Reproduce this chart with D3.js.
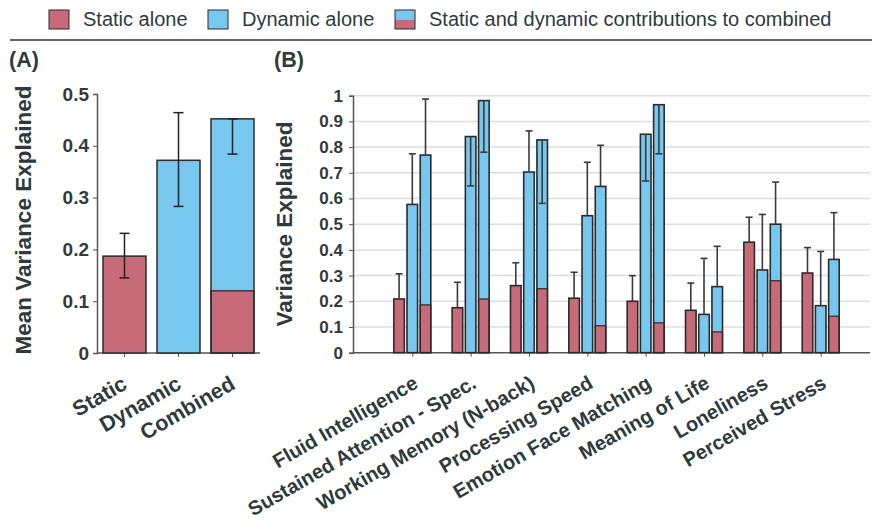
<!DOCTYPE html>
<html>
<head>
<meta charset="utf-8">
<script src="https://cdn.jsdelivr.net/npm/d3@7"></script>
<style>
  html, body { margin: 0; padding: 0; background: #fff; }
  svg { display: block; font-family: "Liberation Sans", Arial, Helvetica, sans-serif; }
</style>
</head>
<body>
<svg id="chart" width="872" height="522"></svg>
<script>
// ---- Panel A: mean variance explained across measures ----
const meanLabels = ["Static", "Dynamic", "Combined"];
const meanTotal = [0.187, 0.372, 0.452];
const meanStaticPart = [0.187, 0, 0.120];
const meanErrLow = [0.145, 0.283, 0.384];
const meanErrHigh = [0.231, 0.464, 0.452];
const meanTicks = [0, 0.1, 0.2, 0.3, 0.4, 0.5];
const meanTickLabels = ["0", "0.1", "0.2", "0.3", "0.4", "0.5"];

// ---- Panel B: variance explained per behavioural measure ----
const categories = ["Fluid Intelligence", "Sustained Attention - Spec.", "Working Memory (N-back)",
  "Processing Speed", "Emotion Face Matching", "Meaning of Life", "Loneliness", "Perceived Stress"];
const staticVals = [0.209, 0.175, 0.261, 0.212, 0.200, 0.165, 0.430, 0.310];
const staticErr = [0.307, 0.274, 0.350, 0.313, 0.300, 0.271, 0.527, 0.409];
const dynamicVals = [0.577, 0.841, 0.703, 0.533, 0.850, 0.149, 0.322, 0.183];
const dynamicErr = [0.774, 0.649, 0.863, 0.741, 0.668, 0.367, 0.538, 0.394];
const combinedVals = [0.769, 0.981, 0.828, 0.647, 0.965, 0.257, 0.500, 0.363];
const combinedStaticPart = [0.186, 0.209, 0.249, 0.105, 0.116, 0.081, 0.280, 0.142];
const combinedErr = [0.987, 0.780, 0.581, 0.807, 0.774, 0.414, 0.664, 0.545];
const varTicks = [0, 0.1, 0.2, 0.3, 0.4, 0.5, 0.6, 0.7, 0.8, 0.9, 1];
const varTickLabels = ["0", "0.1", "0.2", "0.3", "0.4", "0.5", "0.6", "0.7", "0.8", "0.9", "1"];

const legendItems = ["Static alone", "Dynamic alone", "Static and dynamic contributions to combined"];

// ---- styling ----
const RED = "#c86b78";
const BLUE = "#78c7ee";
const INK = "#2f3a3a";
const EDGE = "#2b2b2b";
const WHISKER = "#3a3a3a";

const svg = d3.select("#chart");

// ---- legend ----
const legendX = [49, 208, 395];
const lg = svg.append("g");
legendItems.forEach((t, i) => {
  const g = lg.append("g").attr("transform", `translate(${legendX[i]},10)`);
  if (i < 2) {
    g.append("rect").attr("width", 20).attr("height", 19)
      .attr("fill", i === 0 ? RED : BLUE).attr("stroke", EDGE).attr("stroke-width", 1);
  } else {
    g.append("rect").attr("width", 20).attr("height", 9.5).attr("fill", BLUE);
    g.append("rect").attr("y", 9.5).attr("width", 20).attr("height", 9.5).attr("fill", RED);
    g.append("rect").attr("width", 20).attr("height", 19).attr("fill", "none")
      .attr("stroke", EDGE).attr("stroke-width", 1);
  }
  g.append("text").attr("x", 34).attr("y", 16).attr("font-size", 20)
    .attr("fill", INK).text(t);
});
svg.append("line").attr("x1", 10).attr("x2", 872).attr("y1", 40).attr("y2", 40)
  .attr("stroke", "#333").attr("stroke-width", 1.5);

// ---- panel titles ----
svg.append("text").attr("x", 9).attr("y", 67).attr("font-size", 21.5).attr("font-weight", "bold")
  .attr("fill", INK).text("(A)");
svg.append("text").attr("x", 274).attr("y", 67).attr("font-size", 21.5).attr("font-weight", "bold")
  .attr("fill", INK).text("(B)");

// =================== Panel A ===================
const yA = d3.scaleLinear().domain([0, 0.5]).range([353, 94]);
const xA = d3.scaleBand().domain(meanLabels).range([97, 260])
  .paddingInner(0.204).paddingOuter(0.111);

const gA = svg.append("g");

// axes
const axA = gA.append("g").attr("transform", "translate(97,0)")
  .call(d3.axisLeft(yA).tickValues(meanTicks).tickFormat((d, i) => meanTickLabels[i]).tickSize(4).tickPadding(4));
axA.select(".domain").attr("stroke", "#555").attr("stroke-width", 1.5);
axA.selectAll(".tick line").attr("stroke", "#555");
axA.selectAll(".tick text").attr("font-size", 19).attr("font-weight", "bold").attr("fill", INK)
  .attr("font-family", "Liberation Sans, Arial, sans-serif");

const bxA = gA.append("g").attr("transform", "translate(0,353)")
  .call(d3.axisBottom(xA).tickSize(4).tickFormat(""));
bxA.select(".domain").attr("stroke", "#555").attr("stroke-width", 1.5).attr("d", "M97,0H260");
bxA.selectAll(".tick line").attr("stroke", "#555");

// bars
meanLabels.forEach((lab, i) => {
  const x0 = xA(lab), w = xA.bandwidth();
  const top = meanTotal[i], sp = meanStaticPart[i];
  const baseColor = i === 0 ? RED : BLUE;
  gA.append("rect").attr("x", x0).attr("y", yA(top)).attr("width", w)
    .attr("height", yA(0) - yA(top)).attr("fill", baseColor);
  if (i === 2) {
    gA.append("rect").attr("x", x0).attr("y", yA(sp)).attr("width", w)
      .attr("height", yA(0) - yA(sp)).attr("fill", RED).attr("stroke", EDGE).attr("stroke-width", 1.3);
  }
  gA.append("rect").attr("x", x0).attr("y", yA(top)).attr("width", w)
    .attr("height", yA(0) - yA(top)).attr("fill", "none").attr("stroke", EDGE).attr("stroke-width", 1.5);
  // error bar
  const cx = x0 + w / 2;
  gA.append("line").attr("x1", cx).attr("x2", cx).attr("y1", yA(meanErrLow[i])).attr("y2", yA(meanErrHigh[i]))
    .attr("stroke", "#222").attr("stroke-width", 1.5);
  [meanErrLow[i], meanErrHigh[i]].forEach(v => {
    gA.append("line").attr("x1", cx - 5).attr("x2", cx + 5).attr("y1", yA(v)).attr("y2", yA(v))
      .attr("stroke", "#222").attr("stroke-width", 1.5);
  });
  // category label
  gA.append("text").attr("transform", `translate(${cx + 4},388) rotate(-30)`)
    .attr("text-anchor", "end").attr("font-size", 21.5).attr("font-weight", "bold")
    .attr("fill", INK).text(lab);
});

gA.append("text").attr("transform", "translate(31,220) rotate(-90)")
  .attr("text-anchor", "middle").attr("font-size", 22.5).attr("font-weight", "bold")
  .attr("fill", INK).text("Mean Variance Explained");

// =================== Panel B ===================
const yB = d3.scaleLinear().domain([0, 1]).range([352.7, 95.7]);
const xB = d3.scalePoint().domain(categories).range([412.3, 820.7]);
const xSub = d3.scaleBand().domain(["static", "dynamic", "combined"]).range([-18.5, 18.5]).paddingInner(0.2);
const bw = xSub.bandwidth();

const gB = svg.append("g");

// gridlines
gB.append("g").selectAll("line").data(varTicks.filter(v => v > 0)).join("line")
  .attr("x1", 353).attr("x2", 870).attr("y1", d => yB(d)).attr("y2", d => yB(d))
  .attr("stroke", "#dcdde3").attr("stroke-width", 1.5);

const axB = gB.append("g").attr("transform", "translate(353,0)")
  .call(d3.axisLeft(yB).tickValues(varTicks).tickFormat((d, i) => varTickLabels[i]).tickSize(4).tickPadding(6));
axB.select(".domain").attr("stroke", "#555").attr("stroke-width", 1.5);
axB.selectAll(".tick line").attr("stroke", "#555");
axB.selectAll(".tick text").attr("font-size", 17).attr("font-weight", "bold").attr("fill", INK)
  .attr("font-family", "Liberation Sans, Arial, sans-serif");

const bxB = gB.append("g").attr("transform", "translate(0,352.7)")
  .call(d3.axisBottom(xB).tickSize(4).tickFormat(""));
bxB.select(".domain").attr("stroke", "#555").attr("stroke-width", 1.5).attr("d", "M353,0H870");
bxB.selectAll(".tick line").attr("stroke", "#555");

// whisker from the bar top to its end value, capped at the end
function errBar(g, cx, from, to) {
  g.append("line").attr("x1", cx).attr("x2", cx).attr("y1", yB(from)).attr("y2", yB(to))
    .attr("stroke", WHISKER).attr("stroke-width", 1.6);
  g.append("line").attr("x1", cx - 3.5).attr("x2", cx + 3.5).attr("y1", yB(to)).attr("y2", yB(to))
    .attr("stroke", WHISKER).attr("stroke-width", 1.6);
}

categories.forEach((cat, i) => {
  const c = xB(cat);
  // static alone
  const xs = c + xSub("static");
  gB.append("rect").attr("x", xs).attr("y", yB(staticVals[i])).attr("width", bw)
    .attr("height", yB(0) - yB(staticVals[i])).attr("fill", RED).attr("stroke", EDGE).attr("stroke-width", 1.6);
  errBar(gB, xs + bw / 2, staticVals[i], staticErr[i]);
  // dynamic alone
  const xd = c + xSub("dynamic");
  gB.append("rect").attr("x", xd).attr("y", yB(dynamicVals[i])).attr("width", bw)
    .attr("height", yB(0) - yB(dynamicVals[i])).attr("fill", BLUE).attr("stroke", EDGE).attr("stroke-width", 1.6);
  errBar(gB, xd + bw / 2, dynamicVals[i], dynamicErr[i]);
  // combined: static contribution stacked under dynamic contribution
  const xc = c + xSub("combined");
  gB.append("rect").attr("x", xc).attr("y", yB(combinedVals[i])).attr("width", bw)
    .attr("height", yB(0) - yB(combinedVals[i])).attr("fill", BLUE);
  gB.append("rect").attr("x", xc).attr("y", yB(combinedStaticPart[i])).attr("width", bw)
    .attr("height", yB(0) - yB(combinedStaticPart[i])).attr("fill", RED).attr("stroke", EDGE).attr("stroke-width", 1.2);
  gB.append("rect").attr("x", xc).attr("y", yB(combinedVals[i])).attr("width", bw)
    .attr("height", yB(0) - yB(combinedVals[i])).attr("fill", "none").attr("stroke", EDGE).attr("stroke-width", 1.6);
  errBar(gB, xc + bw / 2, combinedVals[i], combinedErr[i]);

  gB.append("text").attr("transform", `translate(${c + 7},387) rotate(-30)`)
    .attr("text-anchor", "end").attr("font-size", 20).attr("font-weight", "bold")
    .attr("fill", INK).text(cat);
});

gB.append("text").attr("transform", "translate(292,224) rotate(-90)")
  .attr("text-anchor", "middle").attr("font-size", 22.5).attr("font-weight", "bold")
  .attr("fill", INK).text("Variance Explained");
</script>
</body>
</html>
